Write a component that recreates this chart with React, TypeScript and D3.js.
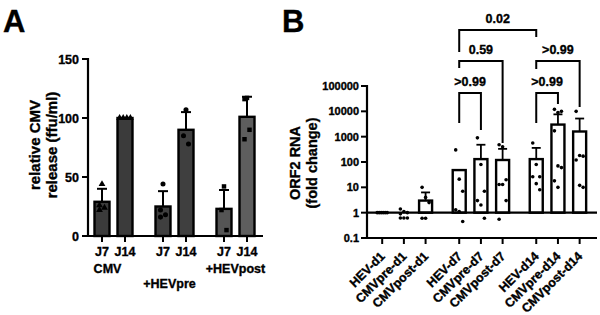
import * as d3 from "d3";

// ─── Panel A data: relative CMV release ──────────────────────────────────────
const groupsA = ["CMV", "+HEVpre", "+HEVpost"];
const daysA = ["J7", "J14"];
const meanA = [29, 100, 25, 90, 23, 101];
const errTopA = [40, 100, 38, 105, 39, 118];
const pointsA = [
  [44, 26, 24, 22],
  [100, 100, 100, 100],
  [44, 22, 18, 16],
  [107, 85, 78],
  [42, 22, 5],
  [117, 116, 90, 82],
];
const ticksA = [0, 50, 100, 150];

// ─── Panel B data: ORF2 RNA fold change ──────────────────────────────────────
const labelsB = [
  "HEV-d1", "CMVpre-d1", "CMVpost-d1",
  "HEV-d7", "CMVpre-d7", "CMVpost-d7",
  "HEV-d14", "CMVpre-d14", "CMVpost-d14",
];
const meanB = [1, 1, 3, 48, 130, 120, 130, 3000, 1600];
const errTopB = [0, 0, 6.3, 0, 480, 330, 360, 7600, 5200];
const pointsB = [
  [1, 1, 1, 1, 1, 1],
  [1.4, 1.1, 1, 0.9, 0.62, 0.62, 0.62],
  [10, 4, 2.5, 0.6, 0.6],
  [300, 21, 7, 1.3, 1.1, 0.45],
  [900, 80, 7, 3, 2, 0.6],
  [480, 400, 20, 13, 13, 3, 0.55],
  [560, 80, 26, 26, 14, 8],
  [12000, 9000, 10000, 1700, 70, 60, 18, 10],
  [10000, 180, 170, 120, 12, 10],
];
const ticksB = [0.1, 1, 10, 100, 1000, 10000, 100000];
const tickLabelsB = ["0.1", "1", "10", "100", "1000", "10000", "100000"];
const bracketPairs = [[3, 4], [6, 7], [3, 5], [6, 8], [3, 6]];
const bracketLabels = [">0.99", ">0.99", "0.59", ">0.99", "0.02"];

const FONT = "'Liberation Sans', Arial, Helvetica, sans-serif";
// a hairline outline gives the heavy look of the printed labels
const TEXT_STYLE = { fontFamily: FONT, fontWeight: 700, stroke: "#000", strokeWidth: 0.35 };
const symbolsA = [d3.symbolTriangle, d3.symbolCircle, d3.symbolSquare];
const fillsA = ["#3b3b3b", "#3b3b3b", "#3f3f3f", "#3f3f3f", "#555", "#5e5e5e"];

function PanelA() {
  const y = d3.scaleLinear().domain([0, 150]).range([236, 59]);
  // group index + day offset on one linear axis
  const x = d3.scaleLinear().domain([0, 2]).range([113.5, 235.5]);
  const cx = (i: number) => x(Math.floor(i / 2)) + (i % 2 === 0 ? -11.5 : 11.5);
  const bw = 15;
  const groupLabelY = [273, 288, 273];

  return (
    <g>
      <g style={TEXT_STYLE}>
        <text x={3} y={32} fontSize={31}>A</text>
        <g transform="translate(37,145) rotate(-90)">
          <text textAnchor="middle" fontSize={15} y={3}>relative CMV</text>
          <text textAnchor="middle" fontSize={15} y={20}>release (ffu/ml)</text>
        </g>
      </g>
      {meanA.map((m, i) => {
        const c = cx(i);
        const g = Math.floor(i / 2);
        const sym = d3.symbol().type(symbolsA[g]).size(20);
        const n = pointsA[i].length;
        return (
          <g key={i}>
            <rect x={c - bw / 2} y={y(m)} width={bw} height={y(0) - y(m)}
              fill={fillsA[i]} stroke="#000" strokeWidth={2.4} />
            {errTopA[i] > m && (
              <g stroke="#000" strokeWidth={2}>
                <line x1={c} x2={c} y1={y(m)} y2={y(errTopA[i])} />
                <line x1={c - 5} x2={c + 5} y1={y(errTopA[i])} y2={y(errTopA[i])} />
              </g>
            )}
            {pointsA[i].map((v, j) => {
              // points at the bar top spread across it, the others jitter lightly
              const dx = v === m ? (j - (n - 1) / 2) * 3.6 : j === 0 ? 0 : (j % 2 === 0 ? 2.5 : -2.5);
              return (
                <path key={j} d={sym() || ""} fill="#000"
                  transform={`translate(${c + dx},${y(v)})`} />
              );
            })}
          </g>
        );
      })}
      {/* axes */}
      <line x1={88} x2={88} y1={58} y2={237} stroke="#000" strokeWidth={2.2} />
      <line x1={87} x2={263} y1={236} y2={236} stroke="#000" strokeWidth={2.2} />
      {ticksA.map((t) => (
        <line key={t} x1={82} x2={88} y1={y(t)} y2={y(t)} stroke="#000" strokeWidth={2} />
      ))}
      {meanA.map((_, i) => (
        <line key={i} x1={cx(i)} x2={cx(i)} y1={236} y2={242} stroke="#000" strokeWidth={2} />
      ))}
      <g style={TEXT_STYLE}>
        {ticksA.map((t) => (
          <text key={t} x={79} y={y(t) + 4.5} textAnchor="end" fontSize={12.5}>{t}</text>
        ))}
        {meanA.map((_, i) => (
          <text key={i} x={cx(i)} y={256} textAnchor="middle" fontSize={12.5}>{daysA[i % 2]}</text>
        ))}
        {groupsA.map((gname, g) => (
          <text key={gname} x={x(g) - (g === 0 ? 6 : g === 1 ? 5 : 0)} y={groupLabelY[g]}
            textAnchor="middle" fontSize={12.5}>{gname}</text>
        ))}
      </g>
    </g>
  );
}

function PanelB() {
  const y = d3.scaleLog().domain([0.1, 100000]).range([238, 86]);
  // groups of three bars with a wider gap between days
  const slot = labelsB.map((_, i) => Math.floor(i / 3) * 3.55 + (i % 3));
  const x = d3.scaleLinear().domain([-0.7, 9.9]).range([367, 597]);
  const cx = (i: number) => x(slot[i]);
  const bw = 13;
  const base = y(1);
  const bracketGeom = [
    { y: 93, da: 30, db: 37 },
    { y: 93, da: 30, db: 11 },
    { y: 61, da: 7, db: 82 },
    { y: 61, da: 8, db: 46 },
    { y: 30, da: 22, db: 7 },
  ];

  return (
    <g>
      <g style={TEXT_STYLE}>
        <text x={282} y={32} fontSize={31}>B</text>
        <g transform="translate(297,163) rotate(-90)">
          <text textAnchor="middle" fontSize={14.5} y={3}>ORF2  RNA</text>
          <text textAnchor="middle" fontSize={14.5} y={20}>(fold change)</text>
        </g>
      </g>
      {meanB.map((m, i) => {
        const c = cx(i);
        return (
          <g key={i}>
            <rect x={c - bw / 2} y={y(m)} width={bw} height={base - y(m)}
              fill="#fff" stroke="#000" strokeWidth={2.4} />
            {errTopB[i] > m && (
              <g stroke="#000" strokeWidth={1.8}>
                <line x1={c} x2={c} y1={y(m)} y2={y(errTopB[i])} />
                <line x1={c - 4.5} x2={c + 4.5} y1={y(errTopB[i])} y2={y(errTopB[i])} />
              </g>
            )}
          </g>
        );
      })}
      {/* baseline at fold change = 1 */}
      <line x1={367} x2={597} y1={base} y2={base} stroke="#000" strokeWidth={2.2} />
      {pointsB.map((pts, i) =>
        pts.map((v, j) => (
          <circle key={`${i}-${j}`} r={1.8} fill="#000"
            cx={cx(i) + (i === 0 ? (j - (pts.length - 1) / 2) * 2 : ((j % 3) - 1) * 3.5)}
            cy={y(v)} />
        ))
      )}
      {/* axes */}
      <line x1={367} x2={367} y1={85} y2={239} stroke="#000" strokeWidth={2.2} />
      <line x1={366} x2={597} y1={238} y2={238} stroke="#000" strokeWidth={2.2} />
      {ticksB.map((t) => (
        <line key={t} x1={361} x2={367} y1={y(t)} y2={y(t)} stroke="#000" strokeWidth={2} />
      ))}
      {labelsB.map((l, i) => (
        <line key={l} x1={cx(i)} x2={cx(i)} y1={238} y2={244} stroke="#000" strokeWidth={2} />
      ))}
      <g style={TEXT_STYLE}>
        {ticksB.map((t, k) => (
          <text key={t} x={359} y={y(t) + 4} textAnchor="end" fontSize={11}>{tickLabelsB[k]}</text>
        ))}
        {labelsB.map((l, i) => (
          <text key={l} transform={`translate(${cx(i) + 3.5},${257}) rotate(-45)`}
            textAnchor="end" fontSize={12.5}>{l}</text>
        ))}
      </g>
      {/* significance brackets */}
      {bracketPairs.map(([a, b], k) => {
        const gm = bracketGeom[k];
        const xa = cx(a);
        const xb = cx(b);
        return (
          <g key={k}>
            <path d={`M${xa},${gm.y + gm.da}V${gm.y}H${xb}V${gm.y + gm.db}`}
              fill="none" stroke="#000" strokeWidth={2} />
            <text x={(xa + xb) / 2} y={gm.y - 7} textAnchor="middle" fontSize={12.5}
              style={TEXT_STYLE}>
              {bracketLabels[k]}
            </text>
          </g>
        );
      })}
    </g>
  );
}

export default function App() {
  return (
    <svg width={600} height={315} viewBox="0 0 600 315"
      style={{ position: "absolute", left: 0, top: 0, background: "#fff" }}>
      <rect width={600} height={315} fill="#fff" />
      <PanelA />
      <PanelB />
    </svg>
  );
}
